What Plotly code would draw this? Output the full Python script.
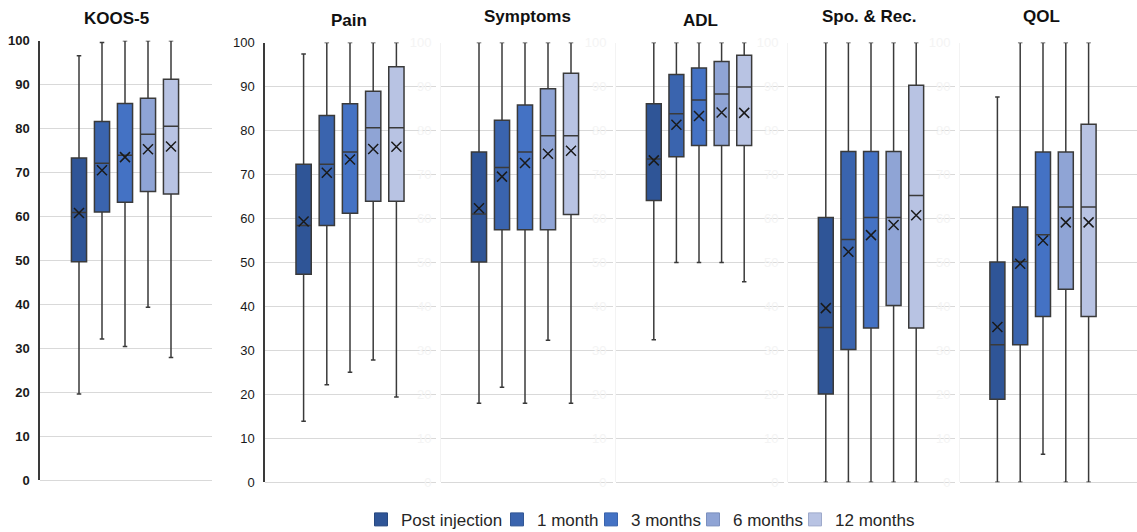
import plotly.graph_objects as go

# Time points and colours
timepoints = ["Post injection", "1 month", "3 months", "6 months", "12 months"]
colors = ["#2F5597", "#3A64AE", "#4472C4", "#8FA4D5", "#B8C3E3"]
edge_colors = ["#27487F", "#325795", "#3A63AC", "#7B8FBE", "#9EAACB"]

# Sub-scores
scores = ["KOOS-5", "Pain", "Symptoms", "ADL", "Spo. & Rec.", "QOL"]

# Box statistics per sub-score, one value per time point
lower = {
    "KOOS-5":      [19.6, 32.1, 30.4, 39.3, 27.9],
    "Pain":        [13.9, 22.2, 25.0, 27.8, 19.4],
    "Symptoms":    [18.0, 21.6, 18.0, 32.3, 18.0],
    "ADL":         [32.4, 50.0, 50.0, 50.0, 45.6],
    "Spo. & Rec.": [0.0, 0.0, 0.0, 0.0, 0.0],
    "QOL":         [0.0, 0.0, 6.4, 0.0, 0.0],
}
q1 = {
    "KOOS-5":      [49.7, 61.0, 63.2, 65.7, 65.1],
    "Pain":        [47.3, 58.4, 61.2, 63.9, 63.9],
    "Symptoms":    [50.1, 57.4, 57.4, 57.4, 60.9],
    "ADL":         [64.1, 74.0, 76.6, 76.6, 76.6],
    "Spo. & Rec.": [20.1, 30.2, 35.1, 40.2, 35.1],
    "QOL":         [18.9, 31.3, 37.7, 43.9, 37.7],
}
median = {
    "KOOS-5":      [60.9, 72.1, 73.9, 78.7, 80.5],
    "Pain":        [58.4, 72.3, 75.1, 80.6, 80.6],
    "Symptoms":    [61.0, 71.6, 75.1, 78.8, 78.8],
    "ADL":         [73.5, 83.8, 86.9, 88.3, 89.9],
    "Spo. & Rec.": [35.2, 55.2, 60.2, 60.2, 65.2],
    "QOL":         [31.3, 50.2, 56.3, 62.6, 62.6],
}
q3 = {
    "KOOS-5":      [73.3, 81.6, 85.7, 86.9, 91.2],
    "Pain":        [72.3, 83.4, 86.1, 88.9, 94.5],
    "Symptoms":    [75.1, 82.3, 85.8, 89.5, 93.0],
    "ADL":         [86.1, 92.7, 94.2, 95.7, 97.1],
    "Spo. & Rec.": [60.2, 75.2, 75.2, 75.2, 90.3],
    "QOL":         [50.1, 62.6, 75.1, 75.1, 81.4],
}
upper = {
    "KOOS-5":      [96.6, 99.6, 100.0, 100.0, 100.0],
    "Pain":        [97.4, 100.0, 100.0, 100.0, 100.0],
    "Symptoms":    [100.0, 100.0, 100.0, 100.0, 100.0],
    "ADL":         [100.0, 100.0, 100.0, 100.0, 100.0],
    "Spo. & Rec.": [100.0, 100.0, 100.0, 100.0, 100.0],
    "QOL":         [87.6, 100.0, 100.0, 100.0, 100.0],
}
mean = {
    "KOOS-5":      [60.8, 70.5, 73.5, 75.3, 75.9],
    "Pain":        [59.3, 70.4, 73.4, 75.8, 76.3],
    "Symptoms":    [62.3, 69.5, 72.6, 74.7, 75.4],
    "ADL":         [73.2, 81.3, 83.3, 84.1, 84.0],
    "Spo. & Rec.": [39.6, 52.4, 56.2, 58.5, 60.7],
    "QOL":         [35.3, 49.7, 55.0, 59.1, 59.1],
}
y_ticks = [0, 10, 20, 30, 40, 50, 60, 70, 80, 90, 100]

# Layout of the six panels (pixels in a 1137 x 532 page)
W, H = 1137, 532
panel_px = [(40, 212), (265, 436), (441, 613), (616, 784), (788, 955), (960, 1137)]
center_px = [125, 350, 525, 699, 871, 1043]
spacing_px = [23, 23.2, 23, 22.6, 22.6, 22.8]
y_px = [(40.7, 480.0)] + [(42.5, 482.3)] * 5
title_px = [(117, 18), (349, 20), (527, 17), (700, 20.5), (869, 16.5), (1041, 16.5)]
# left edge of each legend entry's square
legend_px = [372, 508, 602, 704, 806]

FONT = "Liberation Sans, Arial, sans-serif"
GRID = "#d9d9d9"
LINE = "#3a3a3a"

fig = go.Figure()
layout = dict(
    width=W, height=H,
    margin=dict(l=0, r=0, t=0, b=0, autoexpand=False),
    paper_bgcolor="white", plot_bgcolor="white",
    boxmode="overlay", boxgap=0.06,
    showlegend=True,
    font=dict(family=FONT, color="#262626"),
    annotations=[],
)

for i, score in enumerate(scores):
    n = "" if i == 0 else str(i + 1)
    xa, ya = "x" + n, "y" + n
    for k, tp in enumerate(timepoints):
        fig.add_trace(go.Box(
            x=[tp], q1=[q1[score][k]], median=[median[score][k]], q3=[q3[score][k]],
            lowerfence=[lower[score][k]], upperfence=[upper[score][k]],
            fillcolor=colors[k], line=dict(color=LINE, width=1.5),
            whiskerwidth=0.3, boxpoints=False, name=tp, showlegend=False,
            hoverinfo="skip", xaxis=xa, yaxis=ya,
        ))
    fig.add_trace(go.Scatter(
        x=timepoints, y=mean[score], mode="markers",
        marker=dict(symbol="x-thin", size=10, line=dict(color="#1a1a1a", width=1.5)),
        showlegend=False, hoverinfo="skip", xaxis=xa, yaxis=ya,
    ))

    left, right = panel_px[i]
    c, sp = center_px[i], spacing_px[i]
    layout["xaxis" + n] = dict(
        domain=[left / W, right / W], type="category",
        categoryorder="array", categoryarray=timepoints,
        range=[2 - (c - left) / sp, 2 + (right - c) / sp],
        showticklabels=False, showgrid=False, zeroline=False, showline=False,
        anchor=ya, fixedrange=True,
    )
    top, bot = y_px[i]
    main_axis = i < 2
    layout["yaxis" + n] = dict(
        domain=[1 - bot / H, 1 - top / H], range=[0, 100],
        tickvals=y_ticks, ticktext=[str(t) for t in y_ticks],
        showgrid=True, gridcolor=GRID, gridwidth=1,
        zeroline=True, zerolinecolor=GRID, zerolinewidth=1,
        showline=True,
        linecolor=LINE if main_axis else "#f3f3f3",
        linewidth=1.5 if main_axis else 1,
        ticks="", ticklabelstandoff=6,
        tickfont=dict(
            family=FONT, size=13,
            color="#1a1a1a" if main_axis else "#f4f4f4",
            weight="bold" if i == 0 else "normal",
        ),
        anchor=xa, fixedrange=True,
    )
    tx, ty = title_px[i]
    layout["annotations"].append(dict(
        text="<b>" + score + "</b>", x=tx / W, y=1 - ty / H,
        xref="paper", yref="paper", xanchor="center", yanchor="middle",
        showarrow=False, font=dict(family=FONT, size=17, color="#111111"),
    ))

# Legend entries for the time points, one legend box each
for k, tp in enumerate(timepoints):
    lg = "legend" if k == 0 else "legend" + str(k + 1)
    fig.add_trace(go.Scatter(
        x=[None], y=[None], mode="markers", name=tp, legend=lg,
        marker=dict(symbol="square", size=13, color=colors[k],
                    line=dict(color=edge_colors[k], width=1)),
        xaxis="x", yaxis="y", hoverinfo="skip",
    ))
    layout[lg] = dict(
        orientation="h", x=(legend_px[k] - 11) / W, y=-0.011,
        xanchor="left", yanchor="bottom",
        font=dict(family=FONT, size=17, color="#262626"),
        itemwidth=30, bgcolor="rgba(0,0,0,0)",
    )

fig.update_layout(**layout)
fig.write_html("out.html")
